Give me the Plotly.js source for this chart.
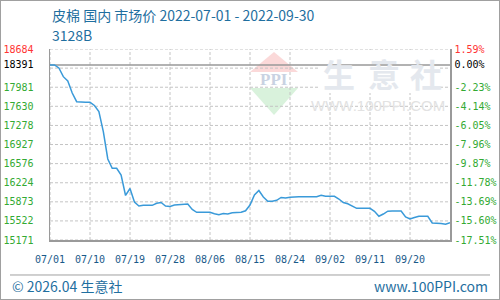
<!DOCTYPE html>
<html>
<head>
<meta charset="utf-8">
<script src="https://cdn.plot.ly/plotly-3.0.1.min.js"></script>
<style>
html,body{margin:0;padding:0;background:#fff;}
#wrap{position:relative;width:500px;height:300px;}
#chart{position:absolute;left:0;top:0;width:500px;height:300px;}
#frame{position:absolute;left:0;top:0;width:500px;height:300px;box-sizing:border-box;border:1px solid #a0a0a0;pointer-events:none;}
</style>
</head>
<body>
<div id="wrap"><div id="chart"></div><div id="frame"></div></div>
<script>
// ---- data ----
const startDate = '2022-07-01';
const prices = [
  18391, 18391, 18335, 18175, 18095, 17875, 17715, 17704, 17704, 17704,
  17645, 17534, 17163, 16661, 16490, 16490, 16366, 15990, 16118, 15870,
  15796, 15809, 15809, 15809, 15846, 15861, 15796, 15787, 15815, 15824,
  15828, 15833, 15732, 15680, 15680, 15680, 15680, 15653, 15634, 15657,
  15649, 15673, 15677, 15680, 15708, 15815, 15999, 16081, 15962, 15883,
  15883, 15901, 15953, 15943, 15956, 15967, 15967, 15967, 15967, 15967,
  15967, 15993, 15975, 15975, 15975, 15925, 15859, 15837, 15796, 15754,
  15754, 15754, 15754, 15699, 15607, 15649, 15701, 15704, 15704, 15704,
  15594, 15557, 15585, 15607, 15607, 15607, 15484, 15484, 15474, 15460,
  15489
];
const xTickVals = ['2022-07-01','2022-07-10','2022-07-19','2022-07-28','2022-08-06','2022-08-15','2022-08-24','2022-09-02','2022-09-11','2022-09-20'];
const xTickText = ['07/01','07/10','07/19','07/28','08/06','08/15','08/24','09/02','09/11','09/20'];
const yTickVals = [15171, 15522, 15873, 16224, 16576, 16927, 17278, 17630, 17981, 18391, 18684];
const yTickText = ['15171','15522','15873','16224','16576','16927','17278','17630','17981','18391','18684'];
const pctTickText = ['-17.51%','-15.60%','-13.69%','-11.78%','-9.87%','-7.96%','-6.05%','-4.14%','-2.23%','0.00%','1.59%'];
const gridVals = [15171, 15522, 15873, 16224, 16576, 16927, 17278, 17630, 17981, 18332, 18684];
const baseValue = 18391;
const xRange = ['2022-07-01', '2022-09-29'];
const titleText = '皮棉 国内 市场价 2022-07-01 - 2022-09-30';
const subTitle = '3128B';
const footLeft = '© 2026.04 生意社';
const footRight = 'www.100PPI.com';

// ---- build ----
const dates = prices.map((_, i) => {
  const d = new Date(startDate + 'T00:00:00Z');
  d.setUTCDate(d.getUTCDate() + i);
  return d.toISOString().slice(0, 10);
});

function colorFor(v, t) {
  if (v === baseValue) return '<span style="color:#000000">' + t + '</span>';
  if (v > baseValue) return '<span style="color:#ff3333">' + t + '</span>';
  return t;
}
const leftText = yTickVals.map((v, i) => colorFor(v, yTickText[i]));
const rightText = yTickVals.map((v, i) => colorFor(v, pctTickText[i]));

const trace = {
  x: dates, y: prices, type: 'scatter', mode: 'lines',
  line: {color: '#3a9ad9', width: 1.5},
  hoverinfo: 'skip', showlegend: false
};
const trace2 = {x: [dates[0]], y: [baseValue], yaxis: 'y2', mode: 'markers', marker: {opacity: 0}, showlegend: false, hoverinfo: 'skip'};

const gridColor = '#c4c4c4';
const gridDash = '3px,2px';
const shapes = [];
// logo triangles (behind grid)
shapes.push({type: 'path', xref: 'paper', yref: 'paper', path: 'M0.5,0.8796 L0.56,0.9843 L0.62,0.8796 Z',
  fillcolor: '#fbd9d9', line: {width: 0}, layer: 'below'});
shapes.push({type: 'path', xref: 'paper', yref: 'paper', path: 'M0.5,0.7958 L0.62,0.7958 L0.56,0.6545 Z',
  fillcolor: '#d9f2dc', line: {width: 0}, layer: 'below'});
// vertical grid
xTickVals.forEach(d => shapes.push({
  type: 'line', xref: 'x', x0: d, x1: d, yref: 'paper', y0: 0, y1: 1,
  line: {color: gridColor, width: 1, dash: gridDash}, layer: 'below'
}));
// horizontal grid
gridVals.forEach(v => shapes.push({
  type: 'line', xref: 'paper', x0: 0, x1: 1, yref: 'y', y0: v, y1: v,
  line: {color: gridColor, width: 1, dash: gridDash}, layer: 'below'
}));
// white patch behind watermark text
shapes.push({type: 'rect', xref: 'paper', yref: 'paper', x0: 0.67, x1: 0.975, y0: 0.77, y1: 0.995,
  fillcolor: '#ffffff', line: {width: 0}, layer: 'below'});
// baseline
shapes.push({type: 'line', xref: 'paper', x0: 0, x1: 1, yref: 'y', y0: baseValue, y1: baseValue,
  line: {color: '#999999', width: 1.5}, layer: 'below'});
// footer separator
shapes.push({type: 'line', xref: 'paper', yref: 'paper', x0: -0.1, x1: 1.1, y0: -0.1832, y1: -0.1832,
  line: {color: '#a0a0a0', width: 1}});

const annotations = [
  {text: titleText, xref: 'paper', yref: 'paper', x: 0, y: 1.178, xanchor: 'left', yanchor: 'middle', showarrow: false,
   font: {family: 'Noto Sans CJK SC', size: 14, color: '#1f6fa0'}},
  {text: subTitle, xref: 'paper', yref: 'paper', x: 0, y: 1.073, xanchor: 'left', yanchor: 'middle', showarrow: false,
   font: {family: 'Noto Sans CJK SC', size: 14, color: '#1f6fa0'}},
  {text: footLeft, xref: 'paper', yref: 'paper', x: -0.1, y: -0.2408, xanchor: 'left', yanchor: 'middle', showarrow: false,
   font: {family: 'Noto Sans CJK SC', size: 14, color: '#1f6fa0'}},
  {text: footRight, xref: 'paper', yref: 'paper', x: 1.1, y: -0.2408, xanchor: 'right', yanchor: 'middle', showarrow: false,
   font: {family: 'Noto Sans CJK SC', size: 14, color: '#1f6fa0'}},
  // watermark
  {text: '<b>PPI</b>', xref: 'paper', yref: 'paper', x: 0.56, y: 0.8377, xanchor: 'center', yanchor: 'middle', showarrow: false,
   font: {family: 'Liberation Serif', size: 17, color: '#c9d2e2'}},
  {text: '<b>生</b>', xref: 'paper', yref: 'paper', x: 0.7225, y: 0.874, xanchor: 'center', yanchor: 'middle', showarrow: false,
   font: {family: 'Noto Sans CJK SC', size: 32, color: '#e4e8ee'}},
  {text: '<b>意</b>', xref: 'paper', yref: 'paper', x: 0.835, y: 0.874, xanchor: 'center', yanchor: 'middle', showarrow: false,
   font: {family: 'Noto Sans CJK SC', size: 32, color: '#e4e8ee'}},
  {text: '<b>社</b>', xref: 'paper', yref: 'paper', x: 0.94, y: 0.874, xanchor: 'center', yanchor: 'middle', showarrow: false,
   font: {family: 'Noto Sans CJK SC', size: 32, color: '#e4e8ee'}},
  {text: 'WWW.100PPI.COM', xref: 'paper', yref: 'paper', x: 0.82, y: 0.7068, xanchor: 'center', yanchor: 'middle', showarrow: false,
   font: {family: 'Liberation Sans', size: 15, color: '#e2e2e2'}}
];

const tickFont = {family: 'DejaVu Sans Mono', size: 10, color: '#33aa33'};
const layout = {
  width: 500, height: 300,
  margin: {l: 50, r: 50, t: 49, b: 60, pad: 0},
  paper_bgcolor: '#ffffff', plot_bgcolor: 'rgba(0,0,0,0)',
  showlegend: false,
  xaxis: {
    type: 'date', range: xRange, tickmode: 'array', tickvals: xTickVals, ticktext: xTickText,
    showgrid: false,
    showline: true, linecolor: '#9a9a9a', linewidth: 1.5, mirror: false,
    ticks: '', zeroline: false, fixedrange: true, ticklabelstandoff: 9,
    tickfont: {family: 'DejaVu Sans Mono', size: 10, color: '#1a5a8a'}
  },
  yaxis: {
    range: [gridVals[0], gridVals[gridVals.length - 1]], tickmode: 'array', tickvals: yTickVals, ticktext: leftText,
    showgrid: false, zeroline: false, showline: true, linecolor: '#9a9a9a', linewidth: 1.5,
    ticks: '', tickfont: tickFont, fixedrange: true, ticklabelstandoff: 13
  },
  yaxis2: {
    overlaying: 'y', side: 'right',
    range: [gridVals[0], gridVals[gridVals.length - 1]], tickmode: 'array', tickvals: yTickVals, ticktext: rightText,
    showgrid: false, zeroline: false, showline: true, linecolor: '#9a9a9a', linewidth: 1.5,
    ticks: '', tickfont: tickFont, fixedrange: true, ticklabelstandoff: 1
  },
  shapes: shapes,
  annotations: annotations
};

Plotly.newPlot('chart', [trace, trace2], layout, {staticPlot: true, displayModeBar: false});
</script>
</body>
</html>
